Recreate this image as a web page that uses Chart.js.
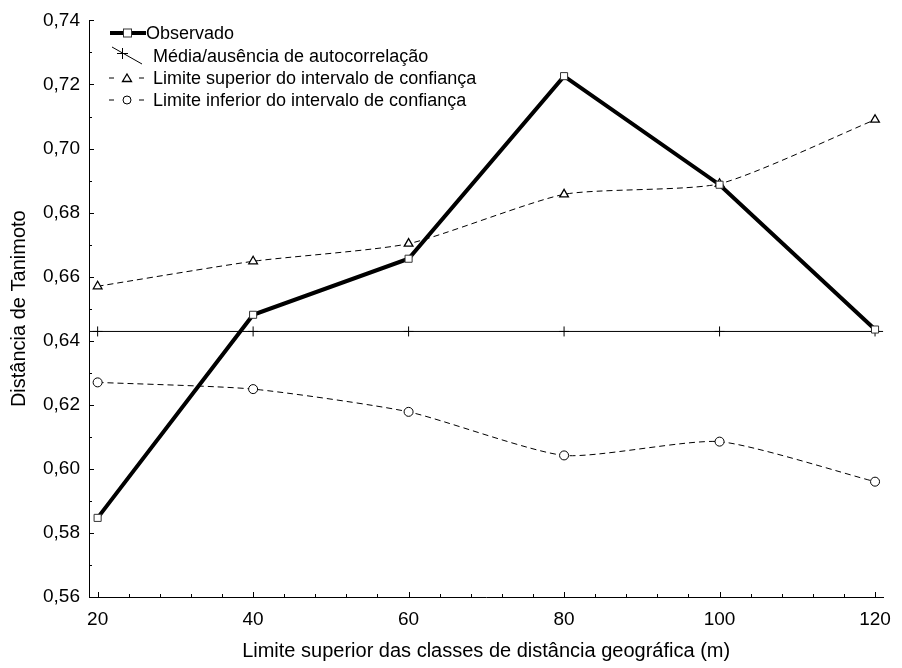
<!DOCTYPE html>
<html>
<head>
<meta charset="utf-8">
<script src="https://cdn.jsdelivr.net/npm/chart.js@4"></script>
<style>
  html, body { margin: 0; padding: 0; background: #fff; }
  #wrap { width: 902px; height: 668px; }
</style>
</head>
<body>
<div id="wrap"><canvas id="chart" width="902" height="668"></canvas></div>
<script>
// classes de distância (m)
const classes = [20, 40, 60, 80, 100, 120];
const observado = [0.5847, 0.6481, 0.6656, 0.7226, 0.6887, 0.6435];
const limiteSuperior = [0.6570, 0.6648, 0.6703, 0.6857, 0.6890, 0.7090];
const limiteInferior = [0.6270, 0.6249, 0.6178, 0.6042, 0.6085, 0.5960];
const media = 0.6429;

const xMin = 18.89, xMax = 121.06;
const yMin = 0.56, yMax = 0.74;
const xTickStep = 4, xLabelStep = 20;
const yTickStep = 0.01;

const FONT = '"Liberation Sans", Arial, sans-serif';

// marcas de escala para dentro do gráfico
const tickMarks = {
    id: 'tickMarks',
    afterDraw(chart) {
        const ctx = chart.ctx;
        const x = chart.scales.x, y = chart.scales.y;
        ctx.save();
        ctx.strokeStyle = '#000';
        ctx.lineWidth = 1;
        ctx.beginPath();
        x.ticks.forEach(t => {
            const px = Math.round(x.getPixelForValue(t.value)) + 0.5;
            const len = t.value % xLabelStep === 0 ? 5 : 3;
            ctx.moveTo(px, y.bottom);
            ctx.lineTo(px, y.bottom - len);
        });
        y.ticks.forEach(t => {
            const py = Math.round(y.getPixelForValue(t.value)) + 0.5;
            const len = Math.round(t.value * 100) % 2 === 0 ? 5 : 3;
            ctx.moveTo(x.left, py);
            ctx.lineTo(x.left + len, py);
        });
        ctx.stroke();
        ctx.restore();
    }
};

// legenda dentro da área do gráfico
const legendaInterna = {
    id: 'legendaInterna',
    afterDraw(chart) {
        const ctx = chart.ctx;
        const labels = chart.data.datasets.map(d => d.label);
        ctx.save();
        ctx.fillStyle = '#000';
        ctx.strokeStyle = '#000';
        ctx.font = '18px ' + FONT;
        ctx.textBaseline = 'middle';

        // Observado
        let ry = 33;
        ctx.lineWidth = 4;
        ctx.beginPath(); ctx.moveTo(110, ry); ctx.lineTo(146, ry); ctx.stroke();
        ctx.lineWidth = 1;
        ctx.fillStyle = '#fff';
        ctx.fillRect(123, ry - 4.5, 9, 9);
        ctx.strokeStyle = '#333';
        ctx.strokeRect(123.5, ry - 4, 8, 8);
        ctx.fillStyle = '#000';
        ctx.strokeStyle = '#000';
        ctx.fillText(labels[0], 146, ry + 1);

        // Média
        ry = 56;
        ctx.beginPath(); ctx.moveTo(112, 47); ctx.lineTo(142, 64); ctx.stroke();
        ctx.beginPath();
        ctx.moveTo(117, 53.5); ctx.lineTo(128, 53.5);
        ctx.moveTo(122.5, 48); ctx.lineTo(122.5, 59);
        ctx.stroke();
        ctx.fillText(labels[1], 153, ry + 1);

        // Limite superior
        ry = 78;
        ctx.beginPath();
        ctx.moveTo(109, ry); ctx.lineTo(114, ry);
        ctx.moveTo(139, ry); ctx.lineTo(144, ry);
        ctx.stroke();
        ctx.lineWidth = 1.3;
        ctx.beginPath();
        ctx.moveTo(127, ry - 4); ctx.lineTo(131.5, ry + 3.5); ctx.lineTo(122.5, ry + 3.5); ctx.closePath();
        ctx.stroke();
        ctx.lineWidth = 1;
        ctx.fillText(labels[2], 153, ry + 1);

        // Limite inferior
        ry = 100;
        ctx.beginPath();
        ctx.moveTo(109, ry); ctx.lineTo(114, ry);
        ctx.moveTo(139, ry); ctx.lineTo(144, ry);
        ctx.stroke();
        ctx.beginPath(); ctx.arc(127, ry, 4, 0, Math.PI * 2); ctx.stroke();
        ctx.fillText(labels[3], 153, ry + 1);
        ctx.restore();
    }
};

const ctx = document.getElementById('chart').getContext('2d');
new Chart(ctx, {
    type: 'line',
    data: {
        datasets: [
            {
                label: 'Observado',
                data: classes.map((c, i) => ({ x: c, y: observado[i] })),
                borderColor: '#000',
                borderWidth: 4,
                pointStyle: 'rect',
                pointRadius: 5,
                pointBackgroundColor: '#fff',
                pointBorderColor: '#333',
                pointBorderWidth: 1,
                tension: 0
            },
            {
                label: 'Média/ausência de autocorrelação',
                data: [{ x: xMin, y: media }].concat(classes.map(c => ({ x: c, y: media })), [{ x: xMax, y: media }]),
                borderColor: '#000',
                borderWidth: 1,
                pointStyle: 'cross',
                pointRadius: [0, 5, 5, 5, 5, 5, 5, 0],
                pointBorderColor: '#000',
                pointBorderWidth: 1,
                tension: 0
            },
            {
                label: 'Limite superior do intervalo de confiança',
                data: classes.map((c, i) => ({ x: c, y: limiteSuperior[i] })),
                borderColor: '#000',
                borderWidth: 1,
                borderDash: [6, 4],
                pointStyle: 'triangle',
                pointRadius: 5,
                pointBackgroundColor: '#fff',
                pointBorderColor: '#000',
                pointBorderWidth: 1.3,
                tension: 0.2
            },
            {
                label: 'Limite inferior do intervalo de confiança',
                data: classes.map((c, i) => ({ x: c, y: limiteInferior[i] })),
                borderColor: '#000',
                borderWidth: 1,
                borderDash: [6, 4],
                pointStyle: 'circle',
                pointRadius: 4.5,
                pointBackgroundColor: '#fff',
                pointBorderColor: '#000',
                pointBorderWidth: 1,
                tension: 0.2
            }
        ]
    },
    options: {
        responsive: false,
        animation: false,
        layout: { padding: { top: 17, right: 11, left: 0, bottom: 0 } },
        plugins: {
            legend: { display: false },
            tooltip: { enabled: false }
        },
        scales: {
            x: {
                type: 'linear',
                min: xMin,
                max: xMax,
                afterBuildTicks(scale) {
                    const t = [];
                    for (let v = 20; v <= 120; v += xTickStep) t.push({ value: v });
                    scale.ticks = t;
                },
                afterFit(scale) { scale.height = 71; },
                grid: { display: false, drawTicks: false },
                border: { display: true, color: '#000', width: 1 },
                ticks: {
                    autoSkip: false,
                    maxRotation: 0,
                    padding: 11,
                    color: '#000',
                    font: { family: FONT, size: 19 },
                    callback: v => (v % xLabelStep === 0 ? String(v) : '')
                },
                title: {
                    display: true,
                    text: 'Limite superior das classes de distância geográfica (m)',
                    color: '#000',
                    font: { family: FONT, size: 20 },
                    padding: { top: 0, bottom: 5 }
                }
            },
            y: {
                min: yMin,
                max: yMax,
                afterBuildTicks(scale) {
                    const t = [];
                    for (let i = 0; i <= 18; i++) t.push({ value: +(yMin + i * yTickStep).toFixed(2) });
                    scale.ticks = t;
                },
                afterFit(scale) { scale.width = 89; },
                grid: { display: false, drawTicks: false },
                border: { display: true, color: '#000', width: 1 },
                ticks: {
                    autoSkip: false,
                    padding: 9,
                    color: '#000',
                    font: { family: FONT, size: 19 },
                    callback: v => (Math.round(v * 100) % 2 === 0 ? v.toFixed(2).replace('.', ',') : '')
                },
                title: {
                    display: true,
                    text: 'Distância de Tanimoto',
                    color: '#000',
                    font: { family: FONT, size: 20 },
                    padding: { top: 7, bottom: 0 }
                }
            }
        }
    },
    plugins: [tickMarks, legendaInterna]
});
</script>
</body>
</html>
